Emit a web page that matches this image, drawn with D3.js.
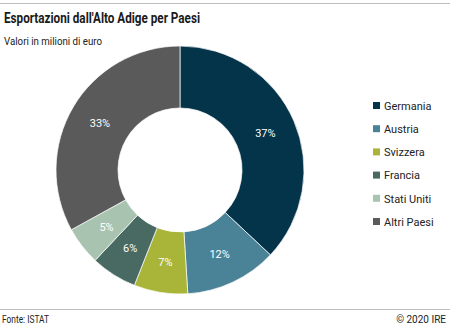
<!DOCTYPE html>
<html><head><meta charset="utf-8">
<script src="https://cdn.jsdelivr.net/npm/d3@7"></script>
<style>
html,body{margin:0;padding:0;background:#fff;}
text{font-family:"Liberation Sans Narrow","Roboto","DejaVu Sans Condensed",sans-serif;}
</style></head>
<body>
<svg id="c" width="450" height="329"></svg>
<script>
const categories = ["Germania","Austria","Svizzera","Francia","Stati Uniti","Altri Paesi"];
const values = [37,12,7,6,5,33];
const colors = ["#04344a","#4a8397","#a9b538","#496a62","#a8c4b0","#5a5a5a"];

const svg = d3.select("#c");
svg.append("line").attr("x1",0).attr("x2",450).attr("y1",3.5).attr("y2",3.5).attr("stroke","#bdbdbd").attr("stroke-width",1);
svg.append("text").attr("x",4).attr("y",23).attr("font-size",14.5).attr("font-weight","bold").attr("fill","#1a1a1a")
  .attr("textLength",196).attr("lengthAdjust","spacingAndGlyphs").text("Esportazioni dall'Alto Adige per Paesi");
svg.append("text").attr("x",4).attr("y",45).attr("font-size",11).attr("fill","#222")
  .attr("textLength",98).attr("lengthAdjust","spacingAndGlyphs").text("Valori in milioni di euro");

const data = categories.map((c,i)=>({cat:c,val:values[i],col:colors[i]}));
const pie = d3.pie().value(d=>d.val).sort(null);
const arcs = pie(data);
const arc = d3.arc().innerRadius(62).outerRadius(124);
const labelArc = d3.arc().innerRadius(93).outerRadius(93);
const g = svg.append("g").attr("transform","translate(180,170)");
g.selectAll("path").data(arcs).join("path").attr("d",arc).attr("fill",d=>d.data.col).attr("stroke","#fff").attr("stroke-width",0.7);
g.selectAll("text").data(arcs).join("text")
  .attr("transform",d=>`translate(${labelArc.centroid(d)})`)
  .attr("text-anchor","middle").attr("dy","0.35em").attr("font-size",11).attr("fill","#fff")
  .text(d=>d.data.val+"%");

const lg = svg.append("g").attr("transform","translate(373,106)");
const item = lg.selectAll("g").data(data).join("g").attr("transform",(d,i)=>`translate(0,${i*23.2})`);
item.append("rect").attr("x",0).attr("y",-4).attr("width",7).attr("height",7).attr("fill",d=>d.col);
item.append("text").attr("x",11).attr("y",0).attr("dy","0.35em").attr("font-size",11).attr("fill","#222").text(d=>d.cat);

svg.append("line").attr("x1",0).attr("x2",450).attr("y1",309.5).attr("y2",309.5).attr("stroke","#bdbdbd").attr("stroke-width",1);
svg.append("text").attr("x",2).attr("y",323).attr("font-size",10).attr("fill","#222")
  .attr("textLength",47).attr("lengthAdjust","spacingAndGlyphs").text("Fonte: ISTAT");
svg.append("text").attr("x",446).attr("y",323).attr("text-anchor","end").attr("font-size",10).attr("fill","#222").text("© 2020 IRE");
</script>
</body></html>
